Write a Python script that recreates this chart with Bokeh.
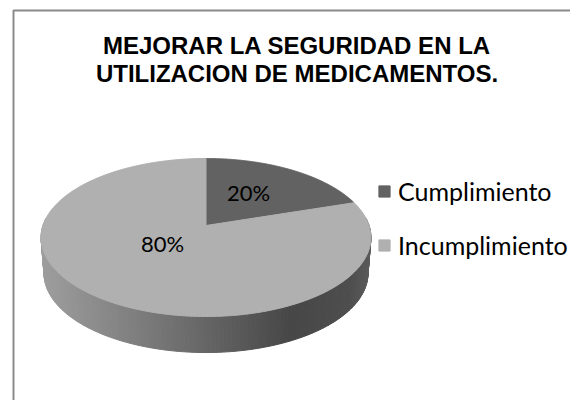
import numpy as np
from bokeh.core.properties import value
from bokeh.embed import file_html
from bokeh.models import Legend, LegendItem
from bokeh.plotting import figure
from bokeh.resources import INLINE

categories = ["Cumplimiento", "Incumplimiento"]
shares = [20, 80]
slice_labels = ["20%", "80%"]
title_lines = ["MEJORAR LA SEGURIDAD EN LA", "UTILIZACION DE MEDICAMENTOS."]
slice_colors = ["#626262", "#b0b0b0"]

# Layout (page pixels)
W, H = 570, 400
APEX_X, APEX_Y = 205.5, 225.0
A, B, C = 163.0, 77.2, 0.152   # perspective projection of the pie disc
DEPTH = 36.0
label_x = [248, 162]
label_y = [192, 243]

p = figure(width=W, height=H, x_range=(0, W), y_range=(H, 0),
           output_backend="svg", toolbar_location=None, min_border=0,
           background_fill_color="white", border_fill_color="white")
p.xaxis.visible = False
p.yaxis.visible = False
p.xgrid.visible = False
p.ygrid.visible = False
p.outline_line_color = None


def project(t):
    X, Y = np.sin(t), np.cos(t)
    d = 1 + C * Y
    return APEX_X + A * X / d, APEX_Y - B * Y / d


# Chart frame (open to the right and bottom like the reference crop)
p.line([13, 13, W], [H, 10, 10], line_color="#8a8a8a", line_width=2)

# Side wall
t = np.linspace(np.pi * 0.47, np.pi * 1.53, 160)
tx, ty = project(t)
cx = (tx.min() + tx.max()) / 2
bx = cx + (tx - cx) * 0.982
by = ty + DEPTH
stops_x = [40, 130, 205, 290, 350, 370]
stops_g = [0x9e, 0x80, 0x66, 0x47, 0x4e, 0x5c]
xs, ys, cols = [], [], []
for i in range(len(t) - 1):
    xs.append([tx[i], tx[i + 1], bx[i + 1], bx[i]])
    ys.append([ty[i], ty[i + 1], by[i + 1], by[i]])
    g = int(np.interp((tx[i] + tx[i + 1]) / 2, stops_x, stops_g))
    cols.append(f"#{g:02x}{g:02x}{g:02x}")
p.patches(xs, ys, fill_color=cols, line_color=cols, line_width=1)

# Top face, one slice per category
total = sum(shares)
start = 0.0
items = []
for name, share, color in zip(categories, shares, slice_colors):
    end = start + share / total
    arc = np.linspace(start, end, 240) * 2 * np.pi
    ax, ay = project(arc)
    r = p.patch(np.r_[APEX_X, ax], np.r_[APEX_Y, ay], fill_color=color,
                line_color=color, line_width=1)
    items.append(LegendItem(label=name, renderers=[r]))
    start = end

p.text(label_x, label_y, text=slice_labels, text_align="center",
       text_baseline="middle", text_font=value("Lato"),
       text_font_size="22px", text_color="#000000")

p.text([296.5, 296.5], [45, 73], text=title_lines, text_align="center",
       text_baseline="middle", text_font=value("Liberation Sans"),
       text_font_style="bold", text_font_size="24px", text_color="#000000")

legend = Legend(items=items, location=(377, 140), orientation="vertical",
                background_fill_alpha=0, border_line_color=None,
                padding=0, margin=0, spacing=24, glyph_width=14, glyph_height=14,
                label_standoff=7, label_text_font="Lato",
                label_text_font_size="25px", label_text_color="#000000")
p.add_layout(legend, "center")

open("out.html", "w").write(file_html(p, INLINE))
